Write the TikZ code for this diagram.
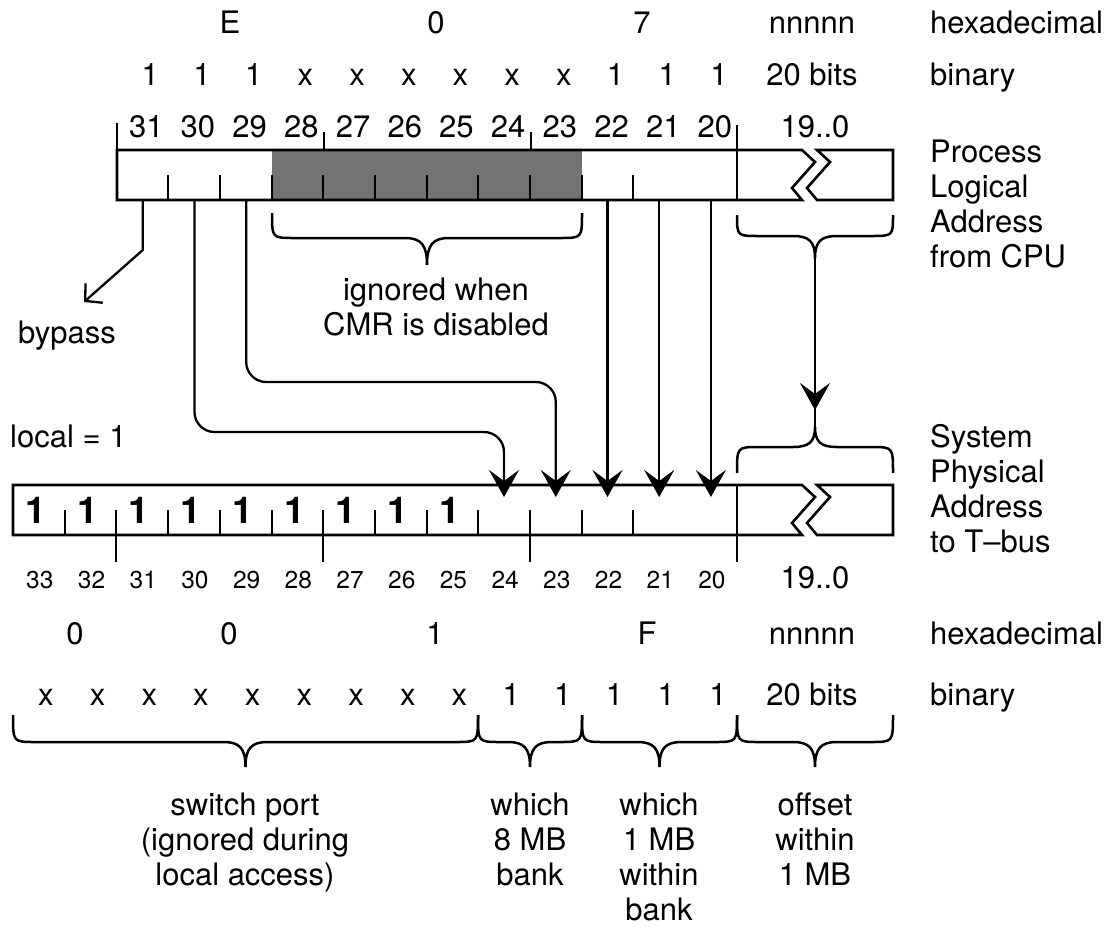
\documentclass[tikz,border=0pt]{standalone}
\usepackage{fontspec}
\setmainfont{TeX Gyre Heros}
\usetikzlibrary{arrows.meta}
\newcommand\mybrace[5]{% x1 x2 yend ymid ytip
 \draw[brc] (#1,#3) .. controls (#1,#4) .. ({#1+22},#4) -- ({(#1+#2)/2-22},#4)
  .. controls ({(#1+#2)/2-6},#4) and ({(#1+#2)/2},{#4+(#5-#4)*0.25}) .. ({(#1+#2)/2},#5)
  .. controls ({(#1+#2)/2},{#4+(#5-#4)*0.25}) and ({(#1+#2)/2+6},#4) .. ({(#1+#2)/2+22},#4)
  -- ({#2-22},#4) .. controls (#2,#4) .. (#2,#3);}
\newcommand\mlc[1]{\begin{tabular}[t]{@{}c@{}}#1\end{tabular}}
\newcommand\mll[1]{\begin{tabular}[t]{@{}l@{}}#1\end{tabular}}
\begin{document}
\begin{tikzpicture}[x=1pt,y=-1pt,
  box/.style={line width=2.6pt, line join=miter},
  tick/.style={line width=2pt},
  conn/.style={line width=2.3pt, rounded corners=20pt},
  arr/.style={-{Stealth[length=27pt,width=30pt,inset=11pt]}},
  brc/.style={line width=2.5pt},
  lbl/.style={font=\fontsize{31}{35}\selectfont, inner sep=0pt, anchor=base},
  lbw/.style={lbl, anchor=base west},
  sml/.style={font=\fontsize{24.5}{28}\selectfont, inner sep=0pt, anchor=base},
  one/.style={font=\fontsize{37}{40}\bfseries\selectfont, inner sep=0pt, anchor=base}]
\useasboundingbox (0,0) rectangle (1117,932);

% ---------- top register (process logical address) ----------
\fill[black!55] (272,150) rectangle (582,200);
\draw[box] (117,150) -- (802,150) -- (815,162) -- (792,188) -- (802,200) -- (117,200) -- cycle;
\draw[box] (817,150) -- (893,150) -- (893,200) -- (817,200) -- (807,188) -- (830,162) -- cycle;
\draw[tick] (117,123) -- (117,150);
\draw[tick] (737,125) -- (737,200);
\draw[tick] (324,132) -- (324,150);
\draw[tick] (530.6,132) -- (530.6,150);
\foreach \b in {30,29,28,27,26,25,24,23,22,21}
  \draw[tick] ({13+51.7*(33-\b)},175) -- ({13+51.7*(33-\b)},200);

% bit numbers above
\foreach \b in {31,30,...,20}
  \node[lbl] (tb\b) at ({13+51.7*(33.5-\b)+4},137) {\b};
\node[lbl] (t190) at (815,137) {19..0};

% hex and binary rows top
\node[lbl] (hE) at (230,33) {E};
\node[lbl] (h0) at (436,33) {0};
\node[lbl] (h7) at (642,33) {7};
\node[lbl] (hn) at (812,33) {nnnnn};
\node[lbw] (hhex) at (930,33) {hexadecimal};
\foreach \b/\v in {31/1,30/1,29/1,28/x,27/x,26/x,25/x,24/x,23/x,22/1,21/1,20/1}
  \node[lbl] (bt\b) at ({13+51.7*(33.5-\b)+8},85) {\v};
\node[lbl] (b20) at (812,85) {20 bits};
\node[lbw] (bbin) at (930,85) {binary};

\node[lbw] (plog) at (930,162) {\mll{Process\\Logical\\Address\\from CPU}};

% braces under top register
\mybrace{272}{582}{213}{238}{265}
\mybrace{737}{893}{215}{236}{258}
\node[lbl] (ign) at (436,300) {\mlc{ignored when\\CMR is disabled}};

% ---------- connectors ----------
\coordinate (s31) at (142.8,200);
\coordinate (k31) at (142.8,250);
\coordinate (byp) at (84,302);
\coordinate (s30) at (194.5,200);
\coordinate (s29) at (246.2,200);
\coordinate (s22) at (607.5,200);
\coordinate (s21) at (659.2,200);
\coordinate (s20) at (710.9,200);
\coordinate (d24) at (504,497);
\coordinate (d23) at (555.8,497);
\coordinate (d22) at (607.5,497);
\coordinate (d21) at (659.2,497);
\coordinate (d20) at (710.9,497);
\coordinate (bt) at (815,258);
\coordinate (bm) at (815,410);
\coordinate (bb) at (815,427);

\draw[line width=2.3pt, -{Straight Barb[length=12pt,width=26pt]}] (s31) -- (k31) -- (byp);
\node[lbl] (bypass) at (67,343) {bypass};
\draw[conn, arr] (s30) -- (194.5,432) -- (504,432) -- (d24);
\draw[conn, arr] (s29) -- (246.2,382) -- (555.8,382) -- (d23);
\draw[conn, arr] (s22) -- (d22);
\draw[conn, arr] (s21) -- (d21);
\draw[conn, arr] (s20) -- (d20);
\draw[conn] (bt) -- (bb);
\draw[conn, arr] (bt) -- (bm);

% ---------- bottom register (system physical address) ----------
\node[lbw] (loc) at (10,447) {local = 1};
\mybrace{737}{893}{473}{447}{427}
\node[lbw] (sphys) at (930,447) {\mll{System\\Physical\\Address\\to T–bus}};

\draw[box] (13,485) -- (802,485) -- (815,497) -- (792,523) -- (802,535) -- (13,535) -- cycle;
\draw[box] (817,485) -- (893,485) -- (893,535) -- (817,535) -- (807,523) -- (830,497) -- cycle;
\foreach \b in {32,31,...,21}
  \draw[tick] ({13+51.7*(33-\b)},510) -- ({13+51.7*(33-\b)},535);
\foreach \b in {31,27,23}
  \draw[tick] ({13+51.7*(33-\b)},510) -- ({13+51.7*(33-\b)},562);
\draw[tick] (737,485) -- (737,562);
\foreach \b in {33,32,...,25}
  \node[one] (one\b) at ({13+51.7*(33.5-\b)-3},523) {1};

\foreach \b in {33,32,...,20}
  \node[sml] (nb\b) at ({13+51.7*(33.5-\b)+1},588) {\b};
\node[lbl] (n190) at (815,588) {19..0};

% hex and binary rows bottom
\node[lbl] (q0a) at (75,644) {0};
\node[lbl] (q0b) at (229,644) {0};
\node[lbl] (q1) at (435,644) {1};
\node[lbl] (qF) at (647,644) {F};
\node[lbl] (qn) at (812,644) {nnnnn};
\node[lbw] (qhex) at (930,644) {hexadecimal};
\foreach \b/\v in {33/x,32/x,31/x,30/x,29/x,28/x,27/x,26/x,25/x,24/1,23/1,22/1,21/1,20/1}
  \node[lbl] (bb\b) at ({13+51.7*(33.5-\b)+7},705) {\v};
\node[lbl] (q20) at (812,705) {20 bits};
\node[lbw] (qbin) at (930,705) {binary};

% bottom braces
\mybrace{13}{478}{715}{742}{767}
\mybrace{478}{582}{715}{742}{767}
\mybrace{582}{737}{715}{742}{767}
\mybrace{737}{893}{715}{742}{767}

\node[lbl] (sw) at (245,815) {\mlc{switch port\\(ignored during\\local access)}};
\node[lbl] (w8) at (530,815) {\mlc{which\\8 MB\\bank}};
\node[lbl] (w1) at (659,815) {\mlc{which\\1 MB\\within\\bank}};
\node[lbl] (off) at (815,815) {\mlc{offset\\within\\1 MB}};
\end{tikzpicture}
\end{document}
